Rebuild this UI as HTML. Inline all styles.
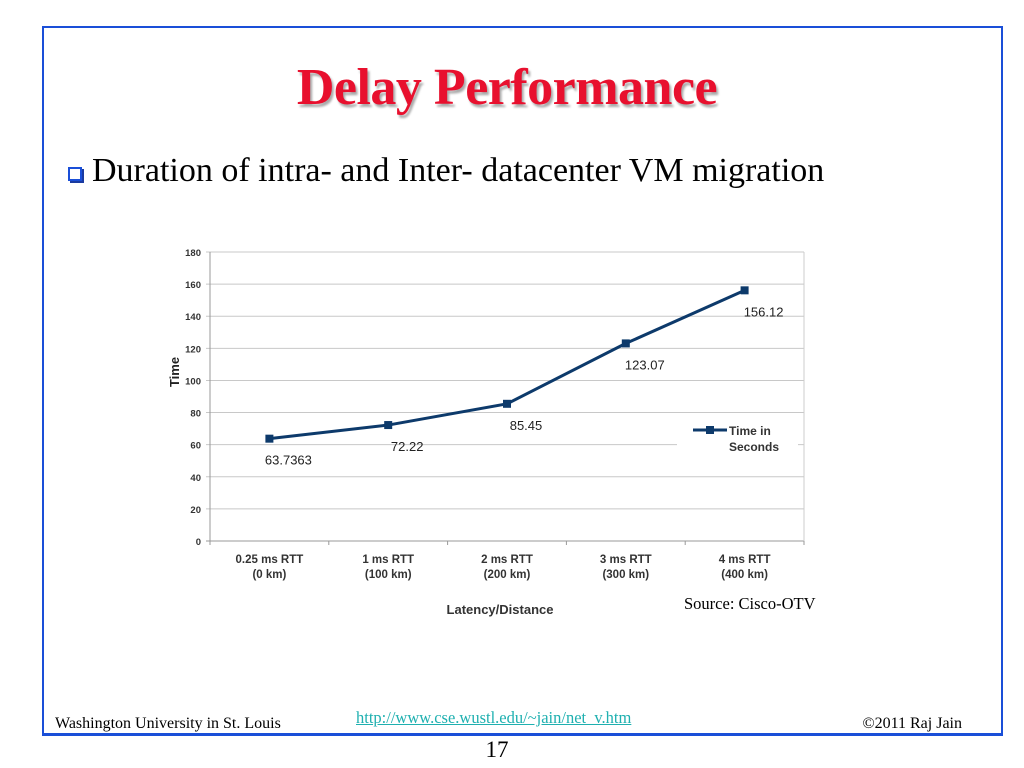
<!DOCTYPE html>
<html><head><meta charset="utf-8"><style>
body{margin:0;width:1024px;height:768px;background:#fff;position:relative;overflow:hidden;font-family:"Liberation Serif",serif}
.abs{position:absolute}
</style></head><body>
<div class="abs" style="left:42px;top:26px;width:957px;height:705px;border:2px solid #1a4fd8;border-bottom:3px solid #1a4fd8"></div>
<div class="abs" style="left:0;width:1014px;top:58px;text-align:center;font-size:52px;line-height:60px;font-weight:bold;color:#e8102e;text-shadow:2px 3px 2px #aaa;letter-spacing:-0.5px">Delay Performance</div>
<div class="abs" style="left:68px;top:167px;width:10px;height:10px;border:2px solid #1a4fd8;box-shadow:2px 2px 0 #1a3aa0"></div>
<div class="abs" style="left:92px;top:152px;font-size:34px;color:#000">Duration of intra- and Inter- datacenter VM migration</div>
<svg class="abs" style="left:0;top:0" width="1024" height="768" id="chart"></svg>
<div class="abs" style="left:684px;top:594px;font-size:16.5px">Source: Cisco-OTV</div>
<div class="abs" style="left:55px;top:715px;font-size:16px">Washington University in St. Louis</div>
<a class="abs" style="left:356px;top:708px;font-size:16.5px;color:#1fb0b0;text-decoration:underline">http://www.cse.wustl.edu/~jain/net_v.htm</a>
<div class="abs" style="right:62px;top:715px;font-size:16px">©2011 Raj Jain</div>
<div class="abs" style="left:0;width:994px;text-align:center;top:737px;font-size:23px">17</div>
<script>
const categories1=["0.25 ms RTT","1 ms RTT","2 ms RTT","3 ms RTT","4 ms RTT"];
const categories2=["(0 km)","(100  km)","(200 km)","(300 km)","(400 km)"];
const values=[63.7363,72.22,85.45,123.07,156.12];
const valueLabels=["63.7363","72.22","85.45","123.07","156.12"];
const yTicks=[0,20,40,60,80,100,120,140,160,180];
const svg=document.getElementById('chart');
const NS='http://www.w3.org/2000/svg';
const L=210,R=804,T=252,B=541,yMax=180;
const xs=i=>L+(R-L)/categories1.length*(i+0.5);
const ys=v=>B-(B-T)*v/yMax;
function mk(t,a,txt){const e=document.createElementNS(NS,t);for(const k in a)e.setAttribute(k,a[k]);if(txt!==undefined)e.textContent=txt;svg.appendChild(e);return e;}
const F='"Liberation Sans",sans-serif';
yTicks.forEach(v=>{
 const g=mk('line',{x1:L-4,x2:R,y1:ys(v),y2:ys(v),stroke:v===0?'#999':'#c8c8c8','stroke-width':1});
 
 
 const t=mk('text',{x:L-9,y:ys(v)+4,'text-anchor':'end','font-family':F,'font-size':9.5,'font-weight':'bold',fill:'#333'},v);
 
 
});
const ya=mk('line',{x1:L,x2:L,y1:T,y2:B+4,stroke:'#999'});


const rb=mk('line',{x1:R,x2:R,y1:T,y2:B+4,stroke:'#ccc'});


for(let i=0;i<=categories1.length;i++){const tk=mk('line',{x1:L+(R-L)/5*i,x2:L+(R-L)/5*i,y1:B,y2:B+4,stroke:'#999'});
 
 }
categories1.forEach((c,i)=>{
 const t=mk('text',{x:xs(i),y:563,'text-anchor':'middle','font-family':F,'font-size':11.5,'font-weight':'bold',fill:'#333'},c);
 
 
 const t2=mk('text',{x:xs(i),y:578,'text-anchor':'middle','font-family':F,'font-size':11.5,'font-weight':'bold',fill:'#333'},categories2[i]);
 
 
});
const lb=mk('rect',{x:677,y:420,width:121,height:36,fill:'#fff'});


const pl=mk('polyline',{points:values.map((v,i)=>xs(i)+','+ys(v)).join(' '),fill:'none',stroke:'#0d3a6b','stroke-width':3});


values.forEach((v,i)=>{
 const m=mk('rect',{x:xs(i)-4,y:ys(v)-4,width:8,height:8,fill:'#0d3a6b'});
 
 
 const t=mk('text',{x:xs(i)+19,y:ys(v)+26,'text-anchor':'middle','font-family':F,'font-size':13,fill:'#222'},valueLabels[i]);
 
 
});
const ll=mk('line',{x1:693,x2:727,y1:430,y2:430,stroke:'#0d3a6b','stroke-width':3});


const lm=mk('rect',{x:706,y:426,width:8,height:8,fill:'#0d3a6b'});


const lt=mk('text',{x:729,y:435,'font-family':F,'font-size':12,'font-weight':'bold',fill:'#333'},'Time in');


const lt2=mk('text',{x:729,y:451,'font-family':F,'font-size':12,'font-weight':'bold',fill:'#333'},'Seconds');


const yt=mk('text',{x:0,y:0,transform:'translate(179,372) rotate(-90)','text-anchor':'middle','font-family':F,'font-size':13,'font-weight':'bold',fill:'#222'},'Time');


const xt=mk('text',{x:500,y:614,'text-anchor':'middle','font-family':F,'font-size':13,'font-weight':'bold',fill:'#333'},'Latency/Distance');


</script>
</body></html>
